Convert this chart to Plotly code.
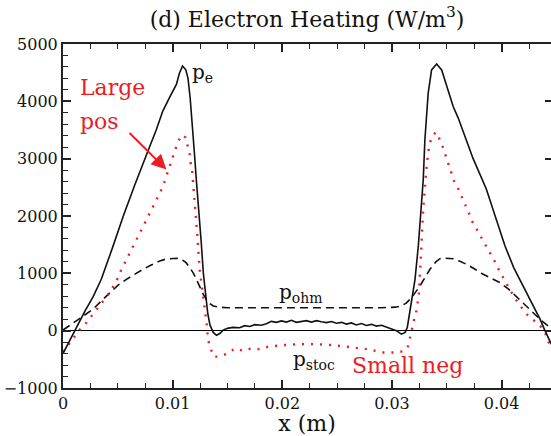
import plotly.graph_objects as go

# Electron heating profiles across the gap (W/m^3)
pe_x = [0, 0.0005, 0.00107, 0.0015, 0.002, 0.00274, 0.0035, 0.0045, 0.0055, 0.0065,
        0.0072, 0.0078, 0.0085, 0.0091, 0.0097, 0.01035, 0.0106, 0.0109, 0.0112, 0.0114,
        0.0116, 0.0118, 0.0120, 0.01217, 0.0124, 0.0126, 0.0128, 0.0130, 0.0132, 0.0134,
        0.0137, 0.0140, 0.0143, 0.0146, 0.0150, 0.0155, 0.01611, 0.01657, 0.01703, 0.01749,
        0.01809, 0.01855, 0.0190, 0.01946, 0.01992, 0.02037, 0.02083, 0.02128, 0.02174, 0.0222,
        0.02265, 0.02311, 0.02356, 0.02402, 0.02448, 0.02493, 0.02539, 0.02584, 0.0263, 0.02675,
        0.02721, 0.02767, 0.02812, 0.02858, 0.02904, 0.02949, 0.02995, 0.0304, 0.03086, 0.0312,
        0.0314, 0.0316, 0.0321, 0.0324, 0.0327, 0.03285, 0.0330, 0.0333, 0.03361, 0.03407,
        0.03453, 0.03513, 0.03558, 0.03604, 0.0368, 0.0374, 0.0386, 0.0395, 0.0403, 0.0411,
        0.0423, 0.0435, 0.04395, 0.0445, 0.045]
pe_y = [-400, -210, 0, 160, 340, 590, 900, 1440, 2000, 2520,
        2850, 3160, 3500, 3830, 4060, 4300, 4480, 4617, 4550, 4400,
        4050, 3620, 3050, 2600, 2100, 1550, 1000, 580, 300, 100,
        -30, -80, -50, 10, 40, 57, 50, 87, 73, 105,
        95, 122, 162, 145, 170, 150, 180, 145, 162, 175,
        150, 175, 155, 140, 160, 130, 145, 115, 135, 100,
        125, 90, 110, 80, 95, 65, 40, 0, -60, -30,
        60, 300, 896, 1475, 2170, 2635, 3330, 4143, 4548, 4652,
        4548, 4200, 3910, 3708, 3330, 3000, 2470, 1950, 1480, 1100,
        660, 200, 0, -230, -420]

pohm_x = [0, 0.0006, 0.00122, 0.002, 0.00274, 0.0035, 0.00426, 0.005, 0.00578, 0.0065,
          0.0073, 0.008, 0.00882, 0.0094, 0.0099, 0.0104, 0.0108, 0.0112, 0.01156, 0.0119,
          0.01217, 0.0125, 0.01277, 0.01308, 0.0134, 0.0137, 0.0142, 0.015, 0.020, 0.025,
          0.029, 0.0303, 0.0308, 0.0313, 0.0318, 0.03255, 0.03346, 0.0340, 0.03437, 0.0348,
          0.0352, 0.03558, 0.0362, 0.0368, 0.0375, 0.03832, 0.03984, 0.0406, 0.04137, 0.0421,
          0.04288, 0.0436, 0.0444, 0.045]
pohm_y = [10, 90, 170, 280, 374, 520, 664, 790, 896, 985,
          1070, 1140, 1214, 1250, 1262, 1262, 1245, 1190, 1099, 1000,
          896, 750, 640, 540, 470, 430, 410, 400, 398, 398,
          400, 410, 430, 480, 580, 780, 1070, 1200, 1255, 1265,
          1265, 1255, 1210, 1157, 1080, 983, 838, 730, 590, 450,
          316, 180, 55, -20]

pstoc_x = [0, 0.00107, 0.00152, 0.00207, 0.00259, 0.0031, 0.00359, 0.00405, 0.0045, 0.0049,
           0.0052, 0.00557, 0.0059, 0.00627, 0.00663, 0.0070, 0.00736, 0.00773, 0.00812, 0.00849,
           0.00882, 0.00916, 0.00943, 0.00967, 0.00995, 0.01019, 0.01044, 0.0108, 0.01117, 0.01138,
           0.01156, 0.01165, 0.0118, 0.01185, 0.01201, 0.01213, 0.01225, 0.01235, 0.01247, 0.01268,
           0.01292, 0.0131, 0.01317, 0.01323, 0.01345, 0.01375, 0.0143, 0.01506, 0.01567, 0.01642,
           0.01719, 0.01795, 0.0187, 0.0194, 0.02007, 0.0216, 0.02312, 0.02463, 0.02616, 0.02768,
           0.0292, 0.03042, 0.0310, 0.03133, 0.03148, 0.03163, 0.03179, 0.03209, 0.0322, 0.03245,
           0.0326, 0.0327, 0.03286, 0.03303, 0.03318, 0.03339, 0.03361, 0.0340, 0.03437, 0.03467,
           0.03492, 0.03516, 0.0354, 0.03568, 0.03608, 0.03644, 0.03674, 0.03704, 0.03735, 0.03777,
           0.03817, 0.03857, 0.03893, 0.03932, 0.03969, 0.04005, 0.04046, 0.04085, 0.04128, 0.04173,
           0.04219, 0.04267, 0.04319, 0.04365, 0.04401, 0.04425, 0.045]
pstoc_y = [-370, -107, 14, 125, 252, 362, 490, 612, 744, 878,
           1017, 1157, 1296, 1435, 1574, 1713, 1847, 1986, 2118, 2258,
           2397, 2543, 2692, 2838, 3000, 3139, 3273, 3412, 3370, 3214,
           3070, 2910, 2751, 2601, 2282, 1981, 1672, 1364, 1050, 744,
           436, 122, -30, -160, -310, -455, -450, -397, -310, -351,
           -310, -322, -281, -264, -252, -235, -235, -252, -292, -322,
           -380, -380, -360, -322, -264, -100, 0, 257, 316, 635,
           1070, 1545, 2160, 2605, 2913, 3226, 3370, 3464, 3330, 3186,
           3040, 2896, 2751, 2595, 2461, 2316, 2170, 2038, 1892, 1753,
           1621, 1492, 1360, 1226, 1082, 953, 809, 682, 548, 421,
           304, 217, 143, 55, -61, -194, -380]

y_major = [-1000, 0, 1000, 2000, 3000, 4000, 5000]
x_major = [0, 0.01, 0.02, 0.03, 0.04]
x_labels = ["0", "0.01", "0.02", "0.03", "0.04"]

SERIF = "DejaVu Serif"
RED = "#ec1c24"
INK = "#111111"

fig = go.Figure()
fig.add_trace(go.Scatter(x=pohm_x, y=pohm_y, mode="lines", name="p_ohm",
                         line=dict(color=INK, width=1.6, dash="8px,5px")))
fig.add_trace(go.Scatter(x=pstoc_x, y=pstoc_y, mode="lines", name="p_stoc",
                         line=dict(color=RED, width=2.4, dash="2px,7px")))
fig.add_trace(go.Scatter(x=pe_x, y=pe_y, mode="lines", name="p_e",
                         line=dict(color=INK, width=1.6)))
# right-hand tick marks
fig.add_trace(go.Scatter(x=[None], y=[None], yaxis="y2", showlegend=False))

axis_common = dict(showgrid=False, linecolor="#222222", linewidth=2, ticks="inside",
                   tickcolor="#222222", tickwidth=1.5, ticklen=8, automargin=False,
                   tickfont=dict(family=SERIF, size=16, color=INK))

fig.update_layout(
    width=551, height=436,
    margin=dict(l=63, r=0, t=44, b=48),
    paper_bgcolor="white", plot_bgcolor="white",
    showlegend=False,
    font=dict(family=SERIF, color=INK),
    title=dict(text="(d) Electron Heating (W/m<sup>3</sup>)", x=0.5, xref="paper",
               y=1 - 19 / 436, yref="container", yanchor="middle", xanchor="center",
               font=dict(family=SERIF, size=22, color=INK)),
    xaxis=dict(range=[0, 0.0445], tickvals=x_major, ticktext=x_labels,
               mirror="ticks", showline=True, zeroline=False,
               minor=dict(dtick=0.0025, ticks="inside", ticklen=5, tickwidth=1.2,
                          tickcolor="#222222"),
               title=dict(text="x (m)", font=dict(family=SERIF, size=22, color=INK),
                          standoff=5),
               **axis_common),
    yaxis=dict(range=[-1000, 5000], tickvals=y_major, showline=True,
               zeroline=True, zerolinecolor="black", zerolinewidth=1.2,
               minor=dict(dtick=200, ticks="inside", ticklen=5, tickwidth=1.2,
                          tickcolor="#222222"),
               **axis_common),
    yaxis2=dict(range=[-1000, 5000], overlaying="y", side="right", tickvals=y_major,
                showticklabels=False, showline=False, showgrid=False, zeroline=False,
                ticks="inside", ticklen=6, tickwidth=1.5, tickcolor="#222222"),
)

# curve labels
label_font = dict(family=SERIF, size=20, color=INK)
fig.add_annotation(x=0.01160, y=4500, text="p<sub>e</sub>", showarrow=False,
                   xanchor="left", yanchor="middle", font=label_font)
fig.add_annotation(x=0.01950, y=660, text="p<sub>ohm</sub>", showarrow=False,
                   xanchor="left", yanchor="middle", font=label_font)
fig.add_annotation(x=0.02080, y=-520, text="p<sub>stoc</sub>", showarrow=False,
                   xanchor="left", yanchor="middle", font=label_font)

red_font = dict(family=SERIF, size=22, color=RED)
fig.add_annotation(x=0.00140, y=4250, text="Large", showarrow=False,
                   xanchor="left", yanchor="middle", font=red_font)
fig.add_annotation(x=0.00140, y=3640, text="pos", showarrow=False,
                   xanchor="left", yanchor="middle", font=red_font)
fig.add_annotation(x=0.02620, y=-600, text="Small neg", showarrow=False,
                   xanchor="left", yanchor="middle", font=red_font)
fig.add_annotation(x=0.00943, y=2809, ax=0.00593, ay=3475, axref="x", ayref="y",
                   xref="x", yref="y", text="", showarrow=True, arrowhead=2,
                   arrowsize=1.5, arrowwidth=2, arrowcolor=RED)

fig.write_html("out.html")
